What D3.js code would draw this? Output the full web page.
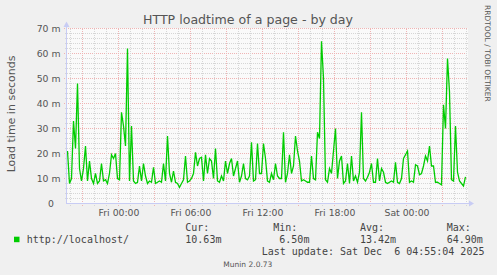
<!DOCTYPE html>
<meta charset="utf-8">
<style>
body { margin: 0; background: #f0f0f0; }
svg { display: block; }
text { font-family: "DejaVu Sans", sans-serif; fill: #555; }
.mono { font-family: "DejaVu Sans Mono", monospace; font-size: 10px; fill: #444; }
</style>
<body>
<svg id="chart" width="497" height="275"></svg>
<script src="https://d3js.org/d3.v7.min.js"></script>
<script>
// samples every 10 minutes, in milliseconds (shown as "m")
const startTime = new Date(2025, 11, 4, 19, 45);
const stepMinutes = 10;
const loadtime = [
  21, 8, 10, 33, 22, 48, 14, 9, 14, 23,
  9, 17, 10, 8, 12, 8, 9, 16, 9, 9.5,
  8, 12, 19.5, 18, 20, 10, 9.5, 36.5, 31, 23,
  62, 9, 31, 9, 8, 8.5, 15, 9, 16, 11,
  8, 9, 8.5, 14.5, 8, 8.5, 9, 8.5, 16, 9,
  27, 12, 8.5, 13, 8.5, 8, 6.5, 8, 9.5, 19,
  8.5, 9, 10, 12, 20.5, 15, 18, 18.5, 9, 19.5,
  12, 18, 17, 10, 22, 9, 8.5, 11, 9, 17,
  12, 16, 18, 11, 14, 17, 8.5, 11, 16, 10,
  9.5, 11, 24.5, 9, 9.5, 24, 12, 12, 24, 18,
  9, 8.5, 12, 9.5, 16, 11, 10, 10, 28.5, 8.5,
  12, 19.5, 12, 15, 27, 21, 17, 9, 9.5, 9,
  8.5, 8.5, 19, 10, 9.5, 28.5, 26, 64.9, 50, 9.5,
  8.5, 14, 12, 21, 30, 10, 17, 19, 8, 9,
  16, 8, 19, 9, 11, 8.5, 12.5, 36.5, 10, 9,
  10.5, 12.5, 16, 8.5, 8.5, 18, 9, 14, 12.5, 8.5,
  8, 8.5, 9, 8.5, 16.5, 8.5, 8, 10, 18, 19.5,
  21, 8.5, 9, 8.5, 15.5, 15, 11.5, 12, 15, 19,
  17, 23, 15, 15, 8.5, 8.5, 8, 7.5, 39.5, 30,
  58, 44.6, 9.5, 9, 31, 12.5, 9, 8, 7, 10.63
];
const yTicks = [0, 10, 20, 30, 40, 50, 60, 70];
const xLabelTimes = [
  new Date(2025, 11, 5, 0), new Date(2025, 11, 5, 6), new Date(2025, 11, 5, 12),
  new Date(2025, 11, 5, 18), new Date(2025, 11, 6, 0)
];
const legendName = "http://localhost/";
const stats = { cur: "10.63m", min: "6.50m", avg: "13.42m", max: "64.90m" };
const lastUpdate = "Last update: Sat Dec  6 04:55:04 2025";

const svg = d3.select("#chart");
const pLeft = 66.5, pRight = 468, pTop = 28.5, pBottom = 203.5;

const x = d3.scaleTime()
  .domain([new Date(2025, 11, 5, 0), new Date(2025, 11, 6, 0)])
  .range([118.5, 406.5]);
const y = d3.scaleLinear().domain([0, 70]).range([pBottom, pTop]);

const t0 = x.invert(pLeft), t1 = x.invert(pRight);
const series = loadtime.map((v, i) => ({ t: new Date(+startTime + i * stepMinutes * 60000), v }));

const minorColor = "#d6d6d6", majorColor = "#efb4b4";

// canvas
svg.append("rect")
  .attr("x", pLeft).attr("y", pTop - 0.5)
  .attr("width", pRight - pLeft).attr("height", pBottom - pTop + 0.5)
  .attr("fill", "#fafafa");

const grid = svg.append("g").attr("shape-rendering", "crispEdges");

// horizontal grid
const yMinor = d3.range(0, 71, 2).filter(d => d % 10 !== 0);
grid.selectAll(".hmin").data(yMinor).join("line")
  .attr("x1", pLeft - 2).attr("x2", pRight)
  .attr("y1", d => y(d)).attr("y2", d => y(d))
  .attr("stroke", minorColor).attr("stroke-dasharray", "1,1");
grid.selectAll(".hmaj").data(yTicks.slice(1)).join("line")
  .attr("x1", pLeft - 3).attr("x2", pRight)
  .attr("y1", d => y(d)).attr("y2", d => y(d))
  .attr("stroke", majorColor).attr("stroke-dasharray", "1,1");

// vertical grid
const hours = d3.timeHour.range(t0, t1);
grid.selectAll(".v").data(hours).join("line")
  .attr("x1", d => x(d)).attr("x2", d => x(d))
  .attr("y1", pTop).attr("y2", d => d.getHours() % 3 === 0 ? pBottom + 3 : pBottom + 2)
  .attr("stroke", d => d.getHours() % 3 === 0 ? majorColor : minorColor)
  .attr("stroke-dasharray", "1,1");

// data line
svg.append("path")
  .datum(series)
  .attr("fill", "none")
  .attr("stroke", "#00cc00")
  .attr("stroke-width", 1.3)
  .attr("d", d3.line().x(d => x(d.t)).y(d => y(d.v)));

// axes lines + arrows
const axisColor = "#c8ccf4";
svg.append("line").attr("x1", pLeft).attr("x2", pLeft).attr("y1", pBottom).attr("y2", 24)
  .attr("stroke", axisColor).attr("shape-rendering", "crispEdges");
svg.append("line").attr("x1", pLeft).attr("x2", 470).attr("y1", pBottom).attr("y2", pBottom)
  .attr("stroke", axisColor).attr("shape-rendering", "crispEdges");
svg.append("path").attr("d", `M${pLeft - 3},27 L${pLeft},21.5 L${pLeft + 3},27 Z`).attr("fill", axisColor);
svg.append("path").attr("d", `M469,${pBottom - 3} L474,${pBottom} L469,${pBottom + 3} Z`).attr("fill", axisColor);

// y labels
const yAxis = svg.append("g")
  .attr("transform", `translate(60.5,0)`)
  .call(d3.axisLeft(y).tickValues(yTicks).tickSize(0).tickPadding(0)
    .tickFormat(d => d === 0 ? "0" : d + " m"));
yAxis.select(".domain").remove();
yAxis.selectAll("text")
  .attr("font-family", "DejaVu Sans").attr("font-size", "9.3px").attr("fill", "#555")
  .attr("dx", d => d === 0 ? -6.5 : 0);

// x labels
const xAxis = svg.append("g")
  .attr("transform", `translate(0,${pBottom})`)
  .call(d3.axisBottom(x).tickValues(xLabelTimes).tickSize(0).tickPadding(0)
    .tickFormat(d3.timeFormat("%a %H:%M")));
xAxis.select(".domain").remove();
xAxis.selectAll("text")
  .attr("font-family", "DejaVu Sans").attr("font-size", "9.3px").attr("fill", "#555")
  .attr("dy", null).attr("y", 12.3);

// title
svg.append("text").attr("x", 248).attr("y", 24).attr("text-anchor", "middle")
  .attr("font-size", "12.6px").text("HTTP loadtime of a page - by day");

// y title
svg.append("text").attr("transform", "translate(15,114) rotate(-90)")
  .attr("text-anchor", "middle").attr("font-size", "11px")
  .text("Load time in seconds");

// watermark
svg.append("text").attr("transform", "translate(485,5) rotate(90)")
  .attr("font-size", "7.5px").attr("fill", "#d2d2d2")
  .text("RRDTOOL / TOBI OETIKER");
svg.append("text").attr("x", 223.3).attr("y", 266.5)
  .attr("font-size", "7.5px").attr("fill", "#cccccc").text("Munin 2.0.73");

// legend
svg.append("rect").attr("x", 14).attr("y", 236.7).attr("width", 5.5).attr("height", 5.5)
  .attr("fill", "#00cc00");
const mono = (tx, ty, s) => svg.append("text").attr("class", "mono").attr("x", tx).attr("y", ty).text(s);
mono(26.7, 242.5, legendName);
mono(185.3, 230.5, "Cur:");
mono(185.3, 242.5, stats.cur);
mono(273.3, 230.5, "Min:");
mono(279.3, 242.5, stats.min);
mono(360, 230.5, "Avg:");
mono(360, 242.5, stats.avg);
mono(446.7, 230.5, "Max:");
mono(446.7, 242.5, stats.max);
svg.append("text").attr("class", "mono").attr("x", 261.7).attr("y", 254.5)
  .style("white-space", "pre").text(lastUpdate);
</script>
</body>
